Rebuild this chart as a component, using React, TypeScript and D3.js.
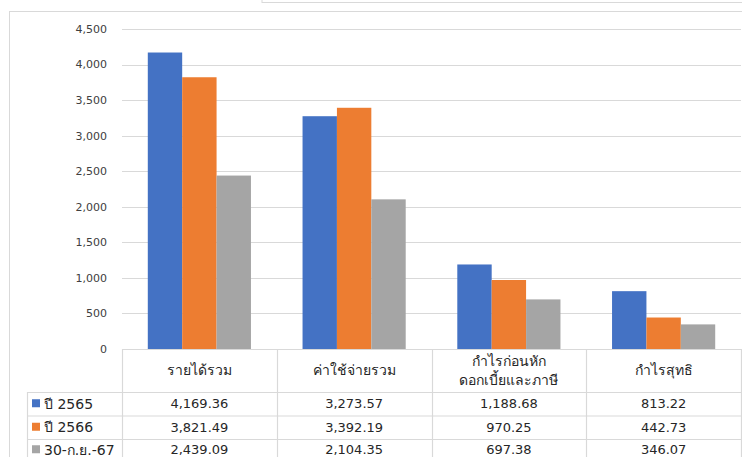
import React from "react";
import * as d3 from "d3";

const categories = ["รายได้รวม", "ค่าใช้จ่ายรวม", "กำไรก่อนหัก\nดอกเบี้ยและภาษี", "กำไรสุทธิ"];
const seriesNames = ["ปี 2565", "ปี 2566", "30-ก.ย.-67"];
const s2565 = [4169.36, 3273.57, 1188.68, 813.22];
const s2566 = [3821.49, 3392.19, 970.25, 442.73];
const s2567 = [2439.09, 2104.35, 697.38, 346.07];
const yTicks = [0, 500, 1000, 1500, 2000, 2500, 3000, 3500, 4000, 4500];
const colors = ["#4472C4", "#ED7D31", "#A5A5A5"];

const W = 742, H = 457;
const left = 122, right = 741, top = 29, bottom = 349;
const headerBottom = 392;
const rowH = 23.5;
const legendLeft = 27;
const FONT = "'DejaVu Sans', Tahoma, 'Noto Sans', sans-serif";

export default function App() {
  const series = [s2565, s2566, s2567];
  const x0 = d3.scaleBand<string>().domain(categories).range([left, right]).paddingInner(0).paddingOuter(0);
  const inner = x0.bandwidth() * (2 / 3);
  const x1 = d3.scaleBand<number>().domain([0, 1, 2]).range([0, inner]).padding(0);
  const y = d3.scaleLinear().domain([0, 4500]).range([bottom, top]);
  const fmt = d3.format(",");
  const fmt2 = d3.format(",.2f");
  const grid = "#D9D9D9";

  return (
    <svg width={W} height={H} style={{ position: "absolute", left: 0, top: 0, background: "#fff" }} fontFamily={FONT}>
      <rect x={0} y={0} width={W} height={H} fill="#fff" />
      {/* top-right box remnant */}
      <rect x={262} y={-20} width={600} height={22.5} fill="none" stroke={grid} strokeWidth={1} />
      {/* chart area border */}
      <rect x={9.5} y={11.5} width={800} height={600} fill="none" stroke={grid} strokeWidth={1} />
      {/* gridlines */}
      {yTicks.map((t) => (
        <g key={t}>
          <line x1={left} x2={right} y1={Math.round(y(t)) + 0.5} y2={Math.round(y(t)) + 0.5} stroke={grid} strokeWidth={1.2} />
          <text x={107} y={y(t)} dy="0.35em" textAnchor="end" fontSize={11} fill="#404040">{fmt(t)}</text>
        </g>
      ))}
      {/* bars */}
      {categories.map((c, ci) => {
        const gx = (x0(c) as number) + (x0.bandwidth() - inner) / 2;
        return series.map((s, si) => (
          <rect key={c + si} x={gx + (x1(si) as number)} y={y(s[ci])} width={x1.bandwidth()} height={bottom - y(s[ci])} fill={colors[si]} />
        ));
      })}
      {/* table lines */}
      {[0, 1, 2, 3].map((i) => (
        <line key={"h" + i} x1={legendLeft} x2={right} y1={headerBottom + i * rowH + 0.5} y2={headerBottom + i * rowH + 0.5} stroke={grid} strokeWidth={1.2} />
      ))}
      <line x1={legendLeft + 0.5} x2={legendLeft + 0.5} y1={headerBottom} y2={H + 10} stroke={grid} strokeWidth={1.2} />
      {[0, 1, 2, 3, 4].map((i) => {
        const xx = i < 4 ? (x0(categories[i]) as number) : right;
        return <line key={"v" + i} x1={Math.round(xx) + 0.5} x2={Math.round(xx) + 0.5} y1={bottom} y2={H + 10} stroke={grid} strokeWidth={1.2} />;
      })}
      {/* header labels */}
      {categories.map((c) => {
        const cx = (x0(c) as number) + x0.bandwidth() / 2;
        const lines = c.split("\n");
        const mid = (bottom + headerBottom) / 2;
        return (
          <text key={"hd" + c} x={cx} textAnchor="middle" fontSize={14} fill="#262626">
            {lines.map((l, li) => (
              <tspan key={li} x={cx} y={mid + (li - (lines.length - 1) / 2) * 19} dy="0.35em">{l}</tspan>
            ))}
          </text>
        );
      })}
      {/* rows */}
      {series.map((s, si) => {
        const cy = headerBottom + si * rowH + rowH / 2 - (si === 2 ? 1 : 0);
        return (
          <g key={"r" + si}>
            <rect x={32} y={cy - 4.5} width={8} height={8} fill={colors[si]} />
            <text x={44} y={cy} dy="0.35em" fontSize={14} fill="#262626">{seriesNames[si]}</text>
            {categories.map((c, ci) => (
              <text key={c} x={(x0(c) as number) + x0.bandwidth() / 2} y={cy} dy="0.35em" textAnchor="middle" fontSize={13} fill="#262626">{fmt2(s[ci])}</text>
            ))}
          </g>
        );
      })}
    </svg>
  );
}
